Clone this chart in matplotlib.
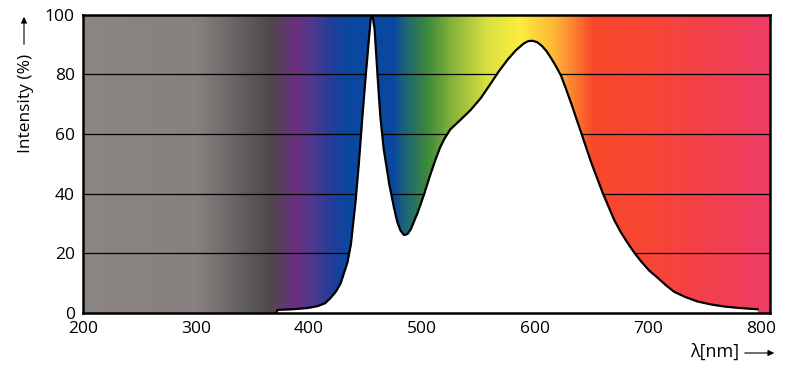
import matplotlib.pyplot as plt
import numpy as np
from matplotlib.colors import LinearSegmentedColormap

plt.rcParams['font.family'] = ['Open Sans', 'DejaVu Sans']

# LED spectrum
wavelength = [371, 372, 385, 398, 407, 414, 419, 424, 428, 431, 434, 437, 441, 444,
              447, 450, 452.5, 454.5, 456, 458, 460.5, 463, 466, 471, 475, 478,
              481, 484, 487, 490, 496, 502, 507, 512, 516, 520, 525, 534, 543, 552,
              561, 568, 576, 583, 590, 594, 598, 602, 606, 610, 614, 618, 623, 627,
              632, 641, 650, 660, 670, 676, 682, 688, 694, 701, 709, 716, 723, 733,
              744, 756, 768, 782, 797]
intensity = [0, 1.0, 1.2, 1.6, 2.2, 3.2, 5, 7.3, 10, 13.5, 17, 23, 37, 50,
             65, 79, 90, 98.5, 100, 95, 80, 66, 55, 43, 35.5, 30.5,
             27.5, 26.1, 26.4, 28, 33.5, 40, 46, 51.5, 55.5, 58.5, 61.5, 64.7, 68, 72,
             77, 81, 85, 88, 90.3, 91.1, 91.2, 90.7, 89.5, 87.8, 85.5, 83, 79.5, 75.5,
             70.2, 60.2, 50.1, 40.1, 31.2, 27, 23.4, 20.1, 17.2, 14.2, 11.6, 9.2, 7.1, 5.3,
             3.8, 2.8, 2.1, 1.6, 1.2]
xticks = [200, 300, 400, 500, 600, 700, 800]
yticks = [0, 20, 40, 60, 80, 100]

# background spectrum colours
stops = [(200, '#8b8682'), (300, '#86817e'), (320, '#767170'), (345, '#5f5a5a'),
         (365, '#4f494b'), (387, '#6e2f80'), (404, '#4a3a90'), (422, '#1e3f99'),
         (434, '#0a47a0'), (475, '#0a47a0'), (483, '#1a6080'), (505, '#3d8a3a'),
         (528, '#8ab53a'), (558, '#d8e040'), (587, '#fbee3e'), (617, '#fdb838'),
         (632, '#fd8a30'), (652, '#f8482a'), (705, '#f74535'), (765, '#f34050'),
         (808, '#ee3c66')]
x0, x1 = 200, 808
cmap = LinearSegmentedColormap.from_list(
    'spec', [((w - x0) / (x1 - x0), c) for w, c in stops])

fig = plt.figure(figsize=(8, 3.82), dpi=100)
ax = fig.add_axes([0.104, 0.181, 0.8585, 0.781])

grad = np.linspace(0, 1, 600).reshape(1, -1)
ax.imshow(grad, cmap=cmap, aspect='auto', extent=[x0, x1, 0, 100], zorder=0)
for v in yticks[1:-1]:
    ax.axhline(v, color='black', lw=0.9, zorder=1)
ax.fill_between(wavelength, 0, intensity, color='white', lw=0, zorder=2)
ax.plot(wavelength, intensity, color='black', lw=1.6, zorder=3,
        solid_joinstyle='round')

ax.set_xlim(x0, x1)
ax.set_ylim(0, 100)
ax.set_xticks(xticks)
ax.set_yticks(yticks)
ax.tick_params(length=0, labelsize=12.5)
ax.tick_params(axis='x', pad=6)
ax.tick_params(axis='y', pad=6)
for s in ax.spines.values():
    s.set_linewidth(1.8)
    s.set_zorder(5)

# axis titles with arrows
fig.text(26 / 800, 1 - 103 / 382, 'Intensity (%)', rotation=90,
         ha='center', va='center', fontsize=12.5)
ax.annotate('', xy=(24 / 800, 1 - 14 / 382), xytext=(24 / 800, 1 - 47 / 382),
            xycoords='figure fraction', textcoords='figure fraction',
            arrowprops=dict(arrowstyle='-|>', color='black', lw=0.8,
                            mutation_scale=9))
fig.text(715 / 800, 1 - 352 / 382, 'λ[nm]', ha='center', va='center', fontsize=13)
ax.annotate('', xy=(777 / 800, 1 - 353 / 382), xytext=(742 / 800, 1 - 353 / 382),
            xycoords='figure fraction', textcoords='figure fraction',
            arrowprops=dict(arrowstyle='-|>', color='black', lw=0.8,
                            mutation_scale=9))

plt.savefig('out.png', dpi=100)
